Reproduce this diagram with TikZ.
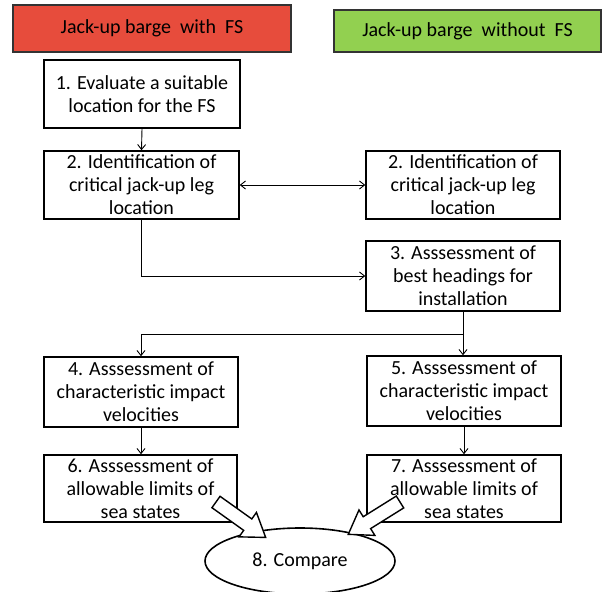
\documentclass[tikz,border=0pt]{standalone}
\usepackage{fontspec}
\setmainfont{Carlito}
\usetikzlibrary{arrows.meta,positioning,shapes.geometric,calc}
\definecolor{hred}{RGB}{231,76,60}
\definecolor{hgreen}{RGB}{146,208,80}
\begin{document}
\begin{tikzpicture}[x=1pt,y=1pt,
  font=\fontsize{20}{23}\selectfont,
  hdr/.style={draw=black!80,line width=1.6pt,inner sep=0pt,align=center},
  box/.style={draw=black,line width=1.6pt,fill=white,inner sep=0pt,align=center},
  con/.style={draw=black,line width=0.9pt,-{Straight Barb[length=5pt,width=8pt]}},
  fat/.style={draw=black,line width=1.4pt,fill=white,line join=miter}]
\useasboundingbox[fill=white] (0,0) rectangle (603,-592);

\node[hdr,fill=hred,minimum width=278pt,minimum height=47pt] (hr) at (152,-28.5) {Jack-up barge\ \ with\ \ FS};
\node[hdr,fill=hgreen,minimum width=267pt,minimum height=42pt] (hg) at (467.5,-31) {Jack-up barge\ \ without\ \ FS};

\node[box,minimum width=196pt,minimum height=68pt] (b1) at (142,-94) {1. Evaluate a suitable\\location for the FS};
\node[box,minimum width=195pt,minimum height=68pt] (b2l) at (141.5,-185) {2. Identification of\\critical jack-up leg\\location};
\node[box,minimum width=194pt,minimum height=68pt] (b2r) at (463,-185) {2. Identification of\\critical jack-up leg\\location};
\node[box,minimum width=194pt,minimum height=70pt] (b3) at (463,-276) {3. Asssessment of\\best headings for\\installation};
\node[box,minimum width=194pt,minimum height=70pt] (b4) at (141,-392) {4. Asssessment of\\characteristic impact\\velocities};
\node[box,minimum width=194pt,minimum height=70pt] (b5) at (464,-391) {5. Asssessment of\\characteristic impact\\velocities};
\node[box,minimum width=193pt,minimum height=67pt] (b6) at (140.5,-488.5) {6. Asssessment of\\allowable limits of\\sea states};
\node[box,minimum width=194pt,minimum height=67pt] (b7) at (464,-488.5) {7. Asssessment of\\allowable limits of\\sea states};
\node[draw=black,line width=1.6pt,ellipse,fill=white,minimum width=190pt,minimum height=66pt,inner sep=0pt] (b8) at (300,-561) {8. Compare};

\draw[con] (b1.south) -- (b2l.north);
\draw[con,{Straight Barb[length=5pt,width=8pt]}-{Straight Barb[length=5pt,width=8pt]}] (b2l.east) -- (b2r.west);
\draw[con] (b2l.south) |- (b3.west);
\coordinate (sp) at ($(b3.south)+(0,-23)$);
\draw[con] (b3.south) -- (sp) -| (b4.north);
\draw[con] (sp) -- (b5.north -| sp);
\draw[con] (b4.south) -- (b6.north -| b4.south);
\draw[con] (b5.south) -- (b7.north -| b5.south);

\draw[fat,shift={(216,-502)},rotate=-35.5]
  (0,7) -- (39,7) -- (39,15) -- (61,0) -- (39,-15) -- (39,-7) -- (0,-7) -- cycle;
\draw[fat,shift={(400,-502)},rotate=-148]
  (0,7) -- (39,7) -- (39,15) -- (61,0) -- (39,-15) -- (39,-7) -- (0,-7) -- cycle;
\end{tikzpicture}
\end{document}
